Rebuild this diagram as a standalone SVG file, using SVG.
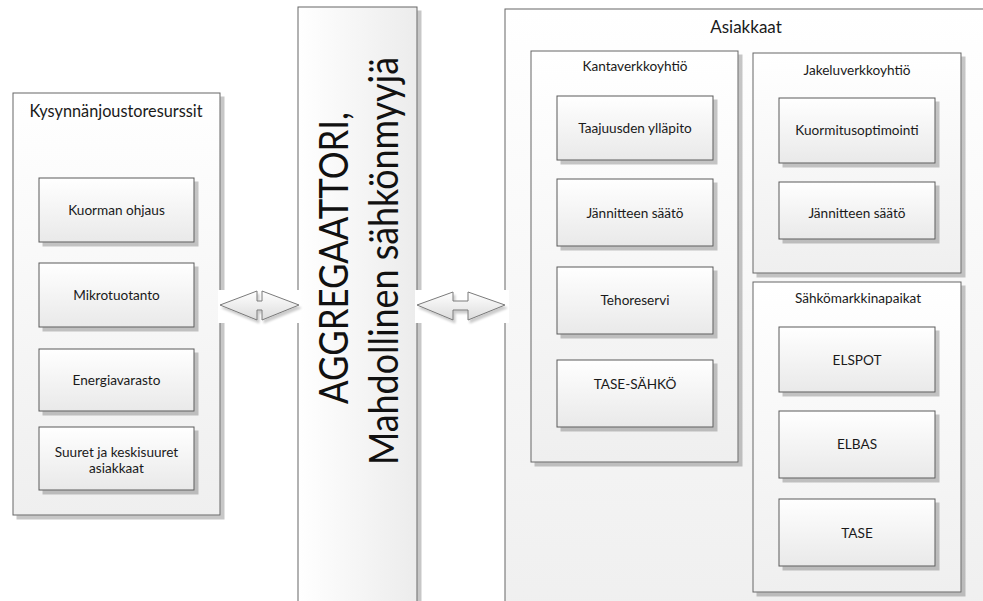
<svg xmlns="http://www.w3.org/2000/svg" width="983" height="601" viewBox="0 0 983 601">
<style>
.box{stroke:#5a5a5a;stroke-width:1;fill:url(#gv);filter:url(#sh)}
.obox{stroke:#666;stroke-width:1;fill:url(#go);filter:url(#sh)}
.t{font-family:Lato,"Liberation Sans",sans-serif;font-size:13.6px;fill:#1a1a1a;text-anchor:middle}
.tt{font-family:Lato,"Liberation Sans",sans-serif;font-size:16.3px;fill:#1a1a1a;text-anchor:middle}
.big{font-family:Lato,"Liberation Sans",sans-serif;font-size:41px;font-weight:400;fill:#111;text-anchor:middle}
.arr{fill:url(#ga);stroke:#7a7a7a;stroke-width:1;filter:url(#sh2)}
</style>
<defs>
<linearGradient id="gv" x1="0" y1="0" x2="0" y2="1"><stop offset="0" stop-color="#ffffff"/><stop offset="1" stop-color="#e9e9e9"/></linearGradient>
<linearGradient id="go" x1="0" y1="0" x2="0" y2="1"><stop offset="0" stop-color="#ffffff"/><stop offset="1" stop-color="#efefef"/></linearGradient>
<linearGradient id="gh" x1="0" y1="0" x2="1" y2="0"><stop offset="0" stop-color="#ffffff"/><stop offset="1" stop-color="#ececec"/></linearGradient>
<linearGradient id="ga" x1="0" y1="0" x2="0" y2="1"><stop offset="0" stop-color="#ffffff"/><stop offset="1" stop-color="#dcdcdc"/></linearGradient>
<filter id="sh" x="-5%" y="-5%" width="115%" height="115%"><feDropShadow dx="4" dy="4" stdDeviation="0.7" flood-color="#000" flood-opacity="0.22"/></filter>
<filter id="sh2" x="-10%" y="-20%" width="125%" height="150%"><feDropShadow dx="2" dy="3" stdDeviation="0.8" flood-color="#000" flood-opacity="0.2"/></filter>
</defs>
<rect width="983" height="601" fill="#fff"/>

<g id="kysynta">
<rect class="obox" x="13" y="93" width="207" height="422"/>
<text class="tt" x="116" y="117">Kysynnänjoustoresurssit</text>
</g>
<g id="kuorman-ohjaus"><rect class="box" x="39" y="178" width="155" height="64"/><text class="t" x="116.5" y="215">Kuorman ohjaus</text></g>
<g id="mikrotuotanto"><rect class="box" x="39" y="263" width="155" height="64"/><text class="t" x="116.5" y="300">Mikrotuotanto</text></g>
<g id="energiavarasto"><rect class="box" x="39" y="349" width="155" height="62"/><text class="t" x="116.5" y="385">Energiavarasto</text></g>
<g id="suuret"><rect class="box" x="39" y="427" width="155" height="63"/><text class="t" x="116.5" y="457">Suuret ja keskisuuret</text><text class="t" x="116.5" y="473">asiakkaat</text></g>

<g id="aggregaattori">
<rect x="298" y="7" width="119" height="620" fill="url(#gh)" stroke="#666" stroke-width="1" filter="url(#sh)"/>
<text class="big" transform="translate(348,258) rotate(-90)" textLength="292" lengthAdjust="spacingAndGlyphs">AGGREGAATTORI,</text>
<text class="big" transform="translate(398,261) rotate(-90)" textLength="408" lengthAdjust="spacingAndGlyphs">Mahdollinen sähkönmyyjä</text>
</g>

<g id="asiakkaat">
<rect class="obox" x="505" y="9" width="500" height="620"/>
<text class="tt" x="746" y="33" style="font-size:17px">Asiakkaat</text>
</g>
<g id="kantaverkkoyhtio">
<rect class="obox" x="531" y="51" width="207" height="411"/>
<text class="t" x="635" y="71">Kantaverkkoyhtiö</text>
</g>
<g id="taajuus"><rect class="box" x="557" y="96" width="156" height="64"/><text class="t" x="635" y="133">Taajuusden ylläpito</text></g>
<g id="jannite1"><rect class="box" x="557" y="179" width="156" height="67"/><text class="t" x="635" y="218">Jännitteen säätö</text></g>
<g id="tehoreservi"><rect class="box" x="557" y="267" width="156" height="67"/><text class="t" x="635" y="305">Tehoreservi</text></g>
<g id="tase-sahko"><rect class="box" x="557" y="360" width="156" height="67"/><text class="t" x="635" y="389">TASE-SÄHKÖ</text></g>

<g id="jakeluverkkoyhtio">
<rect class="obox" x="753" y="53" width="208" height="220"/>
<text class="t" x="857" y="75">Jakeluverkkoyhtiö</text>
</g>
<g id="kuormitus"><rect class="box" x="779" y="98" width="156" height="65"/><text class="t" x="857" y="135">Kuormitusoptimointi</text></g>
<g id="jannite2"><rect class="box" x="779" y="182" width="156" height="57"/><text class="t" x="857" y="218">Jännitteen säätö</text></g>

<g id="sahkomarkkinapaikat">
<rect class="obox" x="753" y="282" width="208" height="310"/>
<text class="t" x="858" y="303">Sähkömarkkinapaikat</text>
</g>
<g id="elspot"><rect class="box" x="779" y="327" width="156" height="65"/><text class="t" x="857" y="365">ELSPOT</text></g>
<g id="elbas"><rect class="box" x="779" y="411" width="156" height="67"/><text class="t" x="857" y="449">ELBAS</text></g>
<g id="tase"><rect class="box" x="779" y="499" width="156" height="67"/><text class="t" x="857" y="538">TASE</text></g>

<g id="connectors">
<rect x="218" y="290" width="83" height="33" fill="#fff"/>
<rect x="415" y="290" width="94" height="33" fill="#fff"/>
<polygon class="arr" points="220,305 257,291 257,301 262,301 262,291 299,305 262,320 262,310 257,310 257,320"/>
<polygon class="arr" points="417,305 453,292 453,301 468,301 468,292 505,305 468,320 468,310 453,310 453,320"/>
</g>
</svg>
